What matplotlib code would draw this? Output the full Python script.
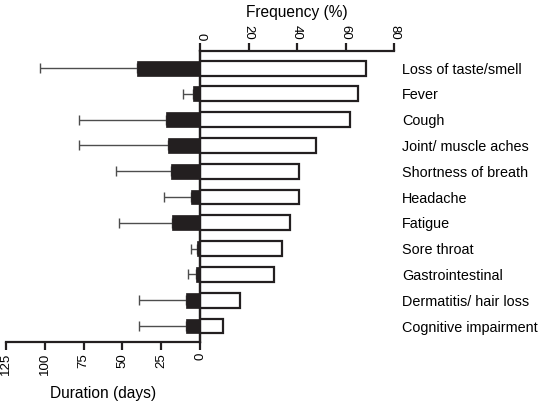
import matplotlib
matplotlib.use("Agg")
import matplotlib.pyplot as plt
import numpy as np

plt.rcParams['font.family'] = ['Liberation Sans', 'DejaVu Sans']

categories = ["Loss of taste/smell", "Fever", "Cough", "Joint/ muscle aches",
              "Shortness of breath", "Headache", "Fatigue", "Sore throat",
              "Gastrointestinal", "Dermatitis/ hair loss", "Cognitive impairment"]
frequency = [68.5, 65.0, 61.7, 47.7, 40.9, 40.9, 37.3, 33.9, 30.5, 16.6, 9.6]
duration = [40.8, 4.7, 21.9, 20.8, 18.9, 5.8, 17.8, 1.7, 2.6, 8.8, 8.8]
duration_err = [62.0, 6.3, 56.3, 57.4, 35.2, 17.4, 34.4, 4.3, 5.3, 30.3, 30.3]

freq_ticks = [0, 20, 40, 60, 80]
dur_ticks = [0, 25, 50, 75, 100, 125]

W, H = 540, 401
fig = plt.figure(figsize=(W / 100, H / 100), dpi=100)

x0, xm, x1 = 6, 200, 394
ytop, ybot = 51, 342
axL = fig.add_axes([x0 / W, (H - ybot) / H, (xm - x0) / W, (ybot - ytop) / H])
axR = fig.add_axes([xm / W, (H - ybot) / H, (x1 - xm) / W, (ybot - ytop) / H])

y = np.arange(len(categories))
bh = 0.58
lw = 1.6
ylims = (len(y) - 1 + 0.62, -0.66)

axL.barh(y, duration, height=bh, color='#231f20', edgecolor='#231f20', linewidth=0.5, zorder=2)
axL.errorbar(duration, y, xerr=[np.zeros(len(y)), duration_err], fmt='none',
             ecolor='#4d4d4d', elinewidth=1.0, capsize=3.5, capthick=1.0, zorder=1)
axL.set_xlim(125, 0)
axL.set_ylim(*ylims)
axL.set_xticks(dur_ticks)
axL.set_xticklabels([str(t) for t in dur_ticks], rotation=90, fontsize=9.5)
axL.set_yticks([])
for s in ['top', 'left']:
    axL.spines[s].set_visible(False)
for s in ['bottom', 'right']:
    axL.spines[s].set_linewidth(lw)
    axL.spines[s].set_color('#231f20')
axL.tick_params(axis='x', direction='out', length=6, width=lw, color='#231f20', pad=2)
axL.set_xlabel("Duration (days)", fontsize=11.2, labelpad=8)
axL.patch.set_visible(False)

axR.barh(y, frequency, height=bh, color='white', edgecolor='#231f20', linewidth=lw, zorder=2)
axR.set_xlim(0, 80)
axR.set_ylim(*ylims)
axR.xaxis.tick_top()
axR.xaxis.set_label_position('top')
axR.set_xticks(freq_ticks)
axR.set_xticklabels([str(t) for t in freq_ticks], rotation=-90, fontsize=9.5)
axR.set_xlabel("Frequency (%)", fontsize=11.2, labelpad=6)
axR.yaxis.tick_right()
axR.set_yticks(y)
axR.set_yticklabels(categories, fontsize=10.4)
axR.tick_params(axis='y', length=0, pad=6)
axR.tick_params(axis='x', direction='out', length=6, width=lw, color='#231f20', pad=2)
for s in ['right', 'bottom']:
    axR.spines[s].set_visible(False)
for s in ['top', 'left']:
    axR.spines[s].set_linewidth(lw)
    axR.spines[s].set_color('#231f20')
axR.patch.set_visible(False)

fig.savefig("out.png", dpi=100)
